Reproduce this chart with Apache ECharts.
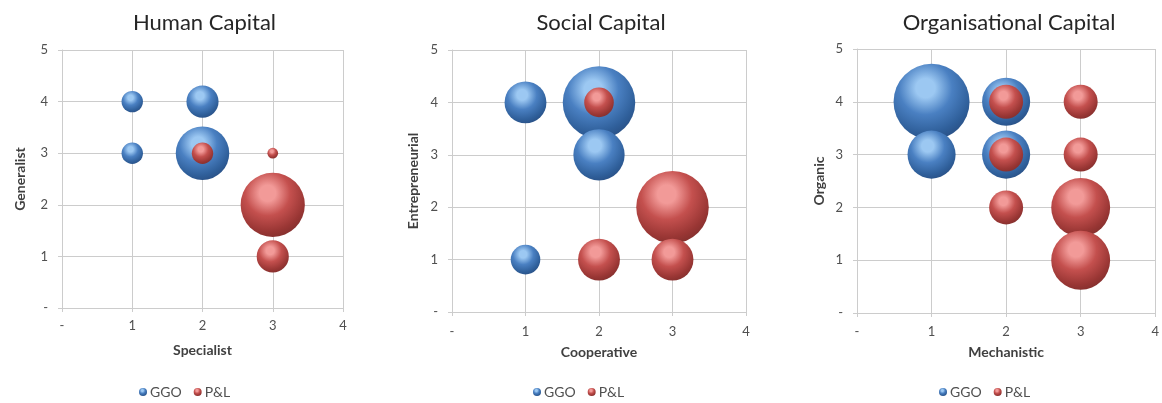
<!DOCTYPE html>
<html>
<head>
<meta charset="utf-8">
<script src="https://cdn.jsdelivr.net/npm/echarts@6/dist/echarts.min.js"></script>
<style>
html,body{margin:0;padding:0;background:#fff;}
#c{width:1162px;height:403px;}
</style>
</head>
<body>
<div id="c"></div>
<script>
// ---- Data: [x, y, bubble size] ----
const titles = ['Human Capital', 'Social Capital', 'Organisational Capital'];
const xNames = ['Specialist', 'Cooperative', 'Mechanistic'];
const yNames = ['Generalist', 'Entrepreneurial', 'Organic'];
const seriesNames = ['GGO', 'P&L'];

const humanGGO = [[1, 4, 4], [2, 4, 9], [1, 3, 4], [2, 3, 25]];
const humanPL  = [[2, 3, 4], [3, 3, 1], [3, 2, 36], [3, 1, 9]];

const socialGGO = [[1, 4, 2], [2, 4, 6], [2, 3, 3], [1, 1, 1]];
const socialPL  = [[2, 4, 1], [3, 2, 6], [2, 1, 2], [3, 1, 2]];

const orgGGO = [[1, 4, 5], [1, 3, 2], [2, 4, 2], [2, 3, 2]];
const orgPL  = [[2, 4, 1], [2, 3, 1], [2, 2, 1], [3, 4, 1], [3, 3, 1], [3, 2, 3], [3, 1, 3]];

const xTicks = [0, 1, 2, 3, 4];
const yTicks = [0, 1, 2, 3, 4, 5];

// ---- Layout / style ----
const grids = [
  {left: 62,  top: 50, width: 281, height: 258},
  {left: 452, top: 50, width: 294, height: 262},
  {left: 857, top: 49, width: 300, height: 264}
];
const unitDiam = [10.7, 29.6, 34];
const xNameGap = [35, 33, 32];
const yNameGap = [35, 32, 31];
const xLabelMargin = [11, 13, 12];
const legendLeft = [139, 533, 939];
const FONT = 'Lato, "Open Sans", sans-serif';

function sphere(light, mid, dark, edge) {
  return {
    type: 'radial', x: 0.42, y: 0.32, r: 0.7,
    colorStops: [
      {offset: 0, color: light},
      {offset: 0.18, color: light},
      {offset: 0.5, color: mid},
      {offset: 0.85, color: dark},
      {offset: 1, color: edge}
    ]
  };
}
const blueFill = sphere('#9cc8f2', '#4a80c2', '#2f5f9a', '#2a5288');
const redFill  = sphere('#f29a98', '#c4504e', '#993634', '#86302e');

const dataSets = [[humanGGO, humanPL], [socialGGO, socialPL], [orgGGO, orgPL]];

const grid = [], xAxis = [], yAxis = [], series = [], legend = [], graphic = [];
const lineColor = '#cccccc';

grids.forEach((g, i) => {
  grid.push(g);
  xAxis.push({
    type: 'value', gridIndex: i, min: xTicks[0], max: xTicks[xTicks.length - 1], interval: 1,
    name: xNames[i], nameLocation: 'middle', nameGap: xNameGap[i],
    nameTextStyle: {fontFamily: FONT, fontWeight: 'bold', fontSize: 14, color: '#404040'},
    axisLine: {show: true, onZero: false, lineStyle: {color: lineColor}},
    axisTick: {show: true, inside: false, length: 4, lineStyle: {color: lineColor}},
    axisLabel: {fontFamily: FONT, fontSize: 13, color: '#505050', margin: xLabelMargin[i],
      formatter: v => v === 0 ? '-' : String(v)},
    splitLine: {show: true, lineStyle: {color: lineColor, width: 1}}
  });
  yAxis.push({
    type: 'value', gridIndex: i, min: yTicks[0], max: yTicks[yTicks.length - 1], interval: 1,
    name: yNames[i], nameLocation: 'middle', nameGap: yNameGap[i], nameRotate: 90,
    nameTextStyle: {fontFamily: FONT, fontWeight: 'bold', fontSize: 14, color: '#404040'},
    axisLine: {show: true, onZero: false, lineStyle: {color: lineColor}},
    axisTick: {show: true, inside: false, length: 4, lineStyle: {color: lineColor}},
    axisLabel: {fontFamily: FONT, fontSize: 13, color: '#505050', margin: 14,
      formatter: v => v === 0 ? '-' : String(v)},
    splitLine: {show: true, lineStyle: {color: lineColor, width: 1}}
  });
  const u = unitDiam[i];
  dataSets[i].forEach((d, s) => {
    series.push({
      name: seriesNames[s], type: 'scatter', xAxisIndex: i, yAxisIndex: i,
      data: d,
      symbol: 'circle',
      symbolSize: val => u * Math.sqrt(val[2]),
      itemStyle: {color: s === 0 ? blueFill : redFill, opacity: 1},
      z: 2 + s
    });
  });
  legend.push({
    left: legendLeft[i], top: 385, padding: 0, itemGap: 12,
    itemWidth: 8, itemHeight: 8, icon: 'circle',
    textStyle: {fontFamily: FONT, fontSize: 14, color: '#505050', padding: [0, 0, 0, -2]},
    data: seriesNames
  });
  graphic.push({
    type: 'text', x: g.left + g.width / 2 + 2, y: 23,
    style: {text: titles[i], align: 'center', verticalAlign: 'middle',
      font: '22px ' + FONT, fill: '#262626'}
  });
});

const chart = echarts.init(document.getElementById('c'), null, {renderer: 'canvas'});
chart.setOption({
  animation: false,
  backgroundColor: '#ffffff',
  grid, xAxis, yAxis, series, legend, graphic
});
</script>
</body>
</html>
